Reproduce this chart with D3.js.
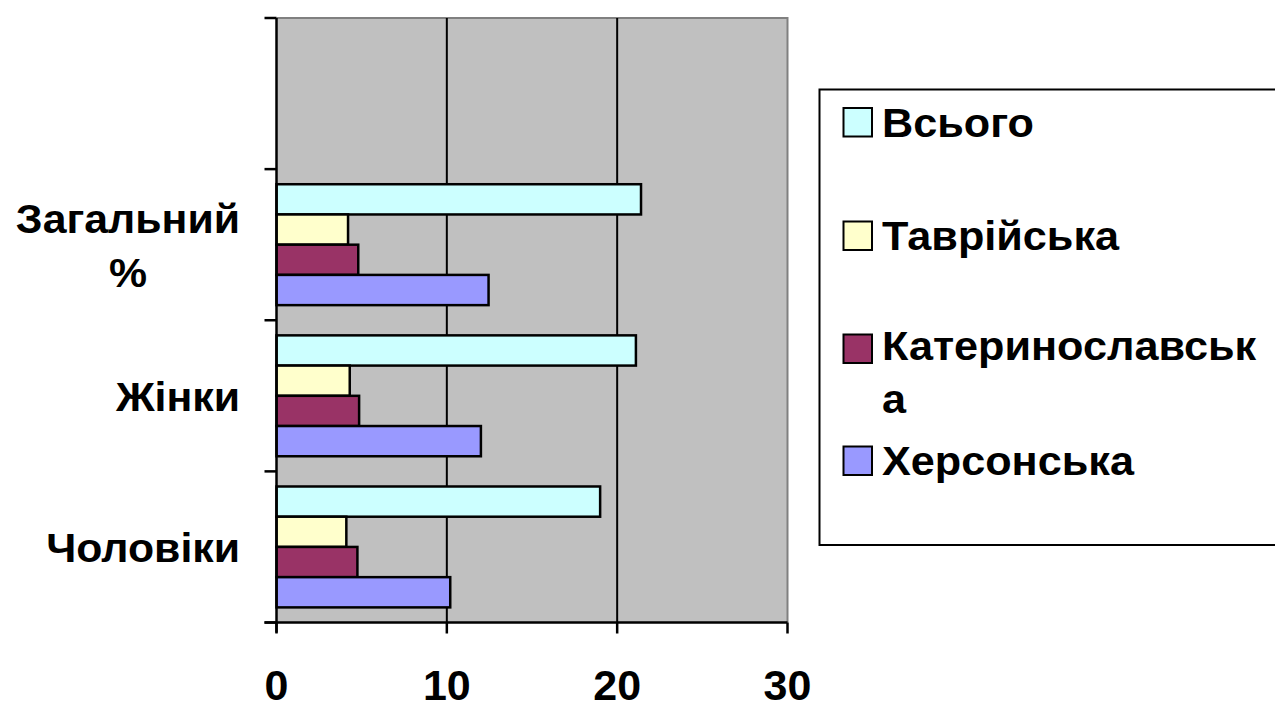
<!DOCTYPE html>
<html><head><meta charset="utf-8">
<script src="https://cdn.jsdelivr.net/npm/d3@7"></script>
<style>
html,body{margin:0;padding:0;background:#fff;}
svg{display:block;font-family:"Liberation Sans",Arial,sans-serif;font-weight:bold;}
</style></head>
<body><svg id="c" width="1275" height="707"></svg>
<script>
const categories = ["", "Загальний %", "Жінки", "Чоловіки"];
const series = ["Всього", "Таврійська", "Катеринославська", "Херсонська"];
const vsogo = [null, 21.4, 21.1, 19.0];
const tavriyska = [null, 4.2, 4.3, 4.1];
const katerynoslavska = [null, 4.8, 4.85, 4.75];
const khersonska = [null, 12.45, 12.0, 10.2];
const xTicks = [0, 10, 20, 30];
const colors = ["#CCFFFF", "#FFFFCC", "#993366", "#9999FF"];
const values = [vsogo, tavriyska, katerynoslavska, khersonska];

const svg = d3.select("#c");
const L = 276.5, R = 787.5, T = 18, B = 622.5;
const x = d3.scaleLinear().domain([0, 30]).range([L, R]);
const y0 = d3.scaleBand().domain(categories).range([T, B]).padding(0);
const y1 = d3.scaleBand().domain(series).range([0, y0.bandwidth()]).paddingInner(0).paddingOuter(0.5);

// plot background
svg.append("rect").attr("x", L).attr("y", T).attr("width", R - L).attr("height", B - T)
  .attr("fill", "#C0C0C0");
// top/right border gray
svg.append("path").attr("d", `M${L},${T}H${R}V${B}`).attr("fill", "none")
  .attr("stroke", "#808080").attr("stroke-width", 2);
// gridlines
svg.append("g").selectAll("line").data(xTicks.filter(d => d > 0 && d < 30)).join("line")
  .attr("x1", d => x(d)).attr("x2", d => x(d)).attr("y1", T).attr("y2", B)
  .attr("stroke", "#000").attr("stroke-width", 2);

// bars
const g = svg.append("g");
categories.forEach((c, ci) => {
  series.forEach((s, si) => {
    const v = values[si][ci];
    if (v == null) return;
    g.append("rect")
      .attr("x", x(0)).attr("y", y0(c) + y1(s))
      .attr("width", x(v) - x(0)).attr("height", y1.bandwidth())
      .attr("fill", colors[si]).attr("stroke", "#000").attr("stroke-width", 2.5);
  });
});

// y axis
const yTickPos = categories.map(c => y0(c)).concat([B]);
svg.append("line").attr("x1", L).attr("x2", L).attr("y1", T).attr("y2", B + 10)
  .attr("stroke", "#000").attr("stroke-width", 2.5);
svg.append("g").selectAll("line").data(yTickPos).join("line")
  .attr("x1", L - 12).attr("x2", L).attr("y1", d => d).attr("y2", d => d)
  .attr("stroke", "#000").attr("stroke-width", 2.5);
// x axis
svg.append("line").attr("x1", L - 12).attr("x2", R).attr("y1", B).attr("y2", B)
  .attr("stroke", "#000").attr("stroke-width", 2.5);
svg.append("g").selectAll("line").data(xTicks).join("line")
  .attr("x1", d => x(d)).attr("x2", d => x(d)).attr("y1", B).attr("y2", B + 11)
  .attr("stroke", "#000").attr("stroke-width", 2.5);
svg.append("g").selectAll("text").data(xTicks).join("text")
  .attr("x", d => x(d)).attr("y", 700).attr("text-anchor", "middle")
  .attr("font-size", 43).text(d => d);

// category labels
const catG = svg.append("g");
categories.forEach(c => {
  if (!c) return;
  const cy = y0(c) + y0.bandwidth() / 2;
  const lines = c === "Загальний %" ? ["Загальний", "%"] : [c];
  const lh = 54;
  const tg = catG.append("g").attr("transform", `translate(240,0) scale(1.07,1)`);
  const texts = lines.map((ln, i) => tg.append("text")
    .attr("x", 0).attr("y", cy + 15 + (i - (lines.length - 1) / 2) * lh)
    .attr("text-anchor", "end").attr("font-size", 40).text(ln));
  if (lines.length > 1) {
    const w0 = texts[0].node().getComputedTextLength();
    texts.forEach(t => t.attr("text-anchor", "middle").attr("x", -w0 / 2));
  }
});

// legend
svg.append("rect").attr("x", 819.5).attr("y", 89.5).attr("width", 470).attr("height", 455.5)
  .attr("fill", "#fff").attr("stroke", "#000").attr("stroke-width", 2);
const legend = [
  {sy: 108, lines: ["Всього"], base: 137},
  {sy: 221.5, lines: ["Таврійська"], base: 250},
  {sy: 334.5, lines: ["Катеринославськ", "а"], base: 360},
  {sy: 446.5, lines: ["Херсонська"], base: 475}
];
legend.forEach((e, i) => {
  svg.append("rect").attr("x", 843.5).attr("y", e.sy).attr("width", 28.5).attr("height", 28.5)
    .attr("fill", colors[i]).attr("stroke", "#000").attr("stroke-width", 2);
  const tg = svg.append("g").attr("transform", `translate(882,0) scale(1.08,1)`);
  e.lines.forEach((ln, j) => {
    tg.append("text").attr("x", 0).attr("y", e.base + j * 53.3)
      .attr("font-size", 40).text(ln);
  });
});
</script></body></html>
